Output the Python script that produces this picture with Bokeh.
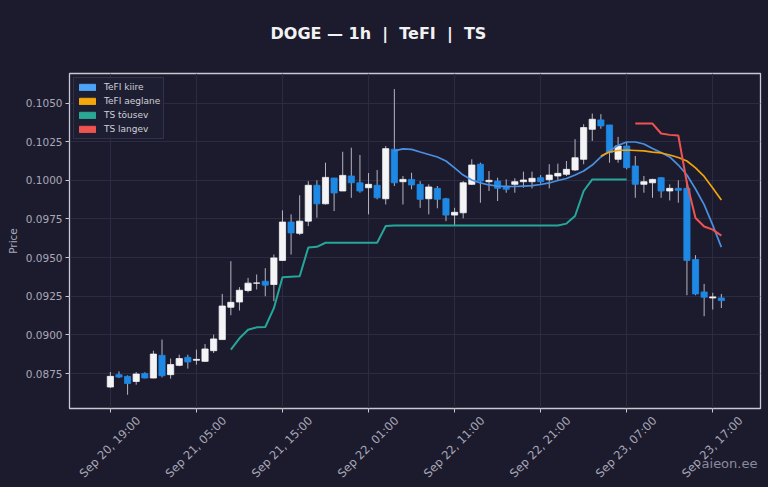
from bokeh.plotting import figure
from bokeh.models import (
    ColumnDataSource, Range1d, FixedTicker, PrintfTickFormatter, LinearAxis,
    Legend, LegendItem, GlobalInlineStyleSheet
)
from bokeh.embed import file_html
from bokeh.resources import INLINE
import math

# ---------------------------- data ----------------------------------
tick_hours = [0, 10, 20, 30, 40, 50, 60, 70]
tick_labels = ["Sep 20, 19:00", "Sep 21, 05:00", "Sep 21, 15:00", "Sep 22, 01:00",
               "Sep 22, 11:00", "Sep 22, 21:00", "Sep 23, 07:00", "Sep 23, 17:00"]
price_ticks = [0.0875, 0.0900, 0.0925, 0.0950, 0.0975, 0.1000, 0.1025, 0.1050]

opens = [0.08663, 0.08743, 0.08732, 0.08699, 0.08751, 0.08721, 0.08868, 0.08743, 0.08803, 0.08855,
         0.08836, 0.08829, 0.08898, 0.08970, 0.09179, 0.09213, 0.09287, 0.09335, 0.09347, 0.09326,
         0.09482, 0.09730, 0.09657, 0.09736, 0.09968, 0.09848, 0.10015, 0.09931, 0.10028, 0.09984,
         0.09952, 0.09968, 0.09881, 0.10201, 0.09991, 0.10006, 0.09974, 0.09881, 0.09948, 0.09881,
         0.09775, 0.09790, 0.09974, 0.10104, 0.09991, 0.09995, 0.09963, 0.09974, 0.09991, 0.09991,
         0.10017, 0.10004, 0.10028, 0.10039, 0.10067, 0.10136, 0.10330, 0.10391, 0.10358, 0.10136,
         0.10222, 0.10093, 0.09974, 0.09984, 0.10017, 0.09931, 0.09948, 0.09948, 0.09488, 0.09278,
         0.09239, 0.09239]
highs = [0.08760, 0.08764, 0.08738, 0.08760, 0.08758, 0.08898, 0.08970, 0.08847, 0.08872, 0.08872,
         0.08905, 0.08941, 0.09002, 0.09265, 0.09477, 0.09309, 0.09369, 0.09391, 0.09432, 0.09520,
         0.09806, 0.09780, 0.09903, 0.09995, 0.10000, 0.10114, 0.10015, 0.10185, 0.10211, 0.10164,
         0.10047, 0.10067, 0.10222, 0.10590, 0.10028, 0.10049, 0.09995, 0.09974, 0.09963, 0.09887,
         0.09822, 0.09995, 0.10136, 0.10114, 0.10060, 0.10017, 0.10006, 0.10013, 0.10056, 0.10056,
         0.10034, 0.10104, 0.10108, 0.10125, 0.10266, 0.10363, 0.10432, 0.10428, 0.10358, 0.10281,
         0.10248, 0.10157, 0.10028, 0.10010, 0.10021, 0.09974, 0.10000, 0.09995, 0.09516, 0.09330,
         0.09272, 0.09265]
lows = [0.08656, 0.08721, 0.08613, 0.08678, 0.08719, 0.08719, 0.08725, 0.08717, 0.08797, 0.08782,
        0.08808, 0.08825, 0.08883, 0.08970, 0.09127, 0.09158, 0.09276, 0.09294, 0.09250, 0.09218,
        0.09482, 0.09520, 0.09646, 0.09704, 0.09758, 0.09844, 0.09801, 0.09931, 0.09887, 0.09920,
        0.09780, 0.09877, 0.09844, 0.09963, 0.09844, 0.09942, 0.09822, 0.09780, 0.09819, 0.09736,
        0.09710, 0.09754, 0.09970, 0.09855, 0.09931, 0.09866, 0.09920, 0.09920, 0.09952, 0.09948,
        0.09978, 0.09948, 0.09995, 0.10028, 0.10060, 0.10104, 0.10255, 0.10334, 0.10114, 0.10114,
        0.10071, 0.09887, 0.09920, 0.09887, 0.09887, 0.09870, 0.09855, 0.09257, 0.09257, 0.09121,
        0.09164, 0.09174]
closes = [0.08732, 0.08727, 0.08686, 0.08747, 0.08721, 0.08876, 0.08736, 0.08808, 0.08847, 0.08825,
          0.08842, 0.08909, 0.08974, 0.09187, 0.09211, 0.09289, 0.09335, 0.09336, 0.09322, 0.09498,
          0.09730, 0.09660, 0.09736, 0.09968, 0.09848, 0.10019, 0.09918, 0.10032, 0.09984, 0.09931,
          0.09974, 0.09887, 0.10205, 0.09984, 0.10006, 0.09970, 0.09877, 0.09957, 0.09877, 0.09775,
          0.09793, 0.09984, 0.10099, 0.09995, 0.10000, 0.09948, 0.09942, 0.09991, 0.10002, 0.10013,
          0.09991, 0.10034, 0.10045, 0.10071, 0.10146, 0.10341, 0.10395, 0.10352, 0.10179, 0.10222,
          0.10082, 0.09974, 0.09991, 0.10006, 0.09931, 0.09948, 0.09935, 0.09482, 0.09265, 0.09244,
          0.09246, 0.09222]

# indicator lines: first candle index + values
tefi_fast_start = 33
tefi_fast = [0.10190, 0.10203, 0.10200, 0.10183, 0.10167, 0.10151, 0.10125, 0.10080, 0.10034, 0.10002,
             0.09983, 0.09970, 0.09963, 0.09960, 0.09960, 0.09963, 0.09966, 0.09973, 0.09983, 0.09999,
             0.10012, 0.10034, 0.10060, 0.10099, 0.10151, 0.10190, 0.10226, 0.10248, 0.10248, 0.10235,
             0.10206, 0.10180, 0.10151, 0.10099, 0.10034, 0.09944, 0.09843, 0.09710, 0.09568]
tefi_slow_start = 57
tefi_slow = [0.10157, 0.10183, 0.10193, 0.10196, 0.10193, 0.10190, 0.10183, 0.10177, 0.10164, 0.10148,
             0.10125, 0.10080, 0.10025, 0.09950, 0.09872]
ts_up_start = 14
ts_up = [0.08905, 0.08978, 0.09033, 0.09049, 0.09051, 0.09173, 0.09373, 0.09377, 0.09380, 0.09565,
         0.09570, 0.09596, 0.09596, 0.09596, 0.09596, 0.09596, 0.09596, 0.09596, 0.09704, 0.09708,
         0.09708, 0.09708, 0.09708, 0.09708, 0.09708, 0.09708, 0.09708, 0.09708, 0.09708, 0.09708,
         0.09708, 0.09708, 0.09708, 0.09708, 0.09708, 0.09708, 0.09708, 0.09708, 0.09708, 0.09720,
         0.09769, 0.09931, 0.10006, 0.10006, 0.10006, 0.10006, 0.10006]
ts_down_start = 61
ts_down = [0.10367, 0.10367, 0.10367, 0.10303, 0.10294, 0.10290, 0.09983, 0.09756, 0.09701, 0.09681,
           0.09642]

# ---------------------------- style ---------------------------------
BG = "#1c1b2e"
GRID = "#2b2b44"
FRAME = "#c8c8d4"
TXT = "#a9a9b8"
UP = "#f4f4f6"
DOWN = "#1e88e5"
WICK = "#b4b4be"
FONT = "DejaVu Sans"
LABEL_SHIFT = 3.25   # hours; centres the rotated date labels under their ticks

hours = list(range(len(opens)))
src = ColumnDataSource(dict(
    x=hours, high=highs, low=lows,
    top=[max(o, c) for o, c in zip(opens, closes)],
    bottom=[min(o, c) for o, c in zip(opens, closes)],
    color=[UP if c >= o else DOWN for o, c in zip(opens, closes)],
))

p = figure(
    width=768, height=487,
    output_backend="svg", toolbar_location=None,
    x_range=Range1d(-4.75, 75.55), y_range=Range1d(0.08524, 0.10691),
    min_border_left=69, min_border_right=8, min_border_top=73, min_border_bottom=79,
    background_fill_color=BG, border_fill_color=BG,
    outline_line_color=FRAME, outline_line_width=1.3,
)
p.stylesheets = [GlobalInlineStyleSheet(css=f"body {{ background: {BG}; }}")]

# title (trailing blank line lifts it away from the frame; nbsp keeps the wide gaps)
p.title.text = "DOGE — 1h \u00a0|\u00a0 TeFI \u00a0|\u00a0 TS\n"
p.title.align = "left"
p.title.offset = 201
p.title.vertical_align = "bottom"
p.title.standoff = 24
p.title.text_font = FONT
p.title.text_font_size = "16px"
p.title.text_font_style = "bold"
p.title.text_color = "#f2f2f2"

# candles
p.segment("x", "high", "x", "low", source=src, line_color=WICK, line_width=1)
p.vbar(x="x", width=0.72, top="top", bottom="bottom", source=src,
       fill_color="color", line_color="color", line_width=0.8)

def span(start, vals):
    return list(range(start, start + len(vals)))

p.line(span(tefi_fast_start, tefi_fast), tefi_fast, line_color="#4a90e2", line_width=1.7)
p.line(span(tefi_slow_start, tefi_slow), tefi_slow, line_color="#f0a30a", line_width=1.7)
p.line(span(ts_up_start, ts_up), ts_up, line_color="#26a69a", line_width=2)
p.line(span(ts_down_start, ts_down), ts_down, line_color="#ef5350", line_width=2)

# legend with patch swatches (swatch quads sit outside the visible range)
names = ["TeFI kiire", "TeFI aeglane", "TS tõusev", "TS langev"]
swatch = ["#4da3f5", "#f5a60a", "#2aa894", "#ef5350"]
items = []
for n, c in zip(names, swatch):
    r = p.quad(left=[-100], right=[-99], top=[0.2], bottom=[0.19], fill_color=c, line_color=c)
    items.append(LegendItem(label=n, renderers=[r]))
legend = Legend(items=items, location="top_left", margin=4, padding=3, spacing=2,
                glyph_width=20, glyph_height=8, label_height=12, label_standoff=7,
                label_text_font=FONT, label_text_font_size="9px", label_text_color="#d0d0d8",
                background_fill_color="#1f1f33", background_fill_alpha=0.9,
                border_line_color="#44465c", border_line_width=1)
p.add_layout(legend)

# y axis
p.yaxis.ticker = FixedTicker(ticks=price_ticks)
p.yaxis.formatter = PrintfTickFormatter(format="%.4f")
p.yaxis.axis_label = "Price"
p.yaxis.axis_label_standoff = 4
ya = p.yaxis[0]
ya.axis_line_color = None
ya.major_tick_line_color = FRAME
ya.major_tick_in = 0
ya.major_tick_out = 4
ya.minor_tick_line_color = None
ya.major_label_text_font = FONT
ya.major_label_text_font_size = "10.5px"
ya.major_label_text_color = TXT
ya.major_label_standoff = 3
ya.axis_label_text_font = FONT
ya.axis_label_text_font_size = "10.5px"
ya.axis_label_text_font_style = "normal"
ya.axis_label_text_color = TXT

# x axis 1: tick marks (and grid) at the real hours, labels not drawn
xa = p.xaxis[0]
xa.ticker = FixedTicker(ticks=tick_hours)
xa.axis_line_color = None
xa.major_tick_line_color = FRAME
xa.major_tick_in = 0
xa.major_tick_out = 4
xa.minor_tick_line_color = None
xa.major_label_text_font_size = "1px"
xa.major_label_text_color = None
xa.major_label_standoff = 0

# x axis 2: rotated date labels, centred under the ticks like the original
lab_ticks = [h + LABEL_SHIFT for h in tick_hours]
xl = LinearAxis(ticker=FixedTicker(ticks=lab_ticks),
                major_label_overrides={t: lab for t, lab in zip(lab_ticks, tick_labels)},
                major_label_orientation=math.pi / 4,
                axis_line_color=None, major_tick_line_color=None, minor_tick_line_color=None,
                major_tick_in=0, major_tick_out=0, major_label_standoff=6,
                major_label_text_font=FONT, major_label_text_font_size="11.5px",
                major_label_text_color=TXT)
# watermark as this axis' label: centred on the right end, so trailing
# no-break spaces push the visible word back inside the frame width
xl.axis_label = "aieon.ee" + "\u00a0" * 15
xl.axis_label_text_font = FONT
xl.axis_label_text_font_size = "13px"
xl.axis_label_text_font_style = "normal"
xl.axis_label_text_color = "#8a8a9c"
xl.axis_label_standoff = -32
xl.axis_label_align = "end"
p.add_layout(xl, "below")

p.xgrid.ticker = FixedTicker(ticks=tick_hours)
p.xgrid.grid_line_color = GRID
p.ygrid.grid_line_color = GRID

open("out.html", "w").write(file_html(p, INLINE))
